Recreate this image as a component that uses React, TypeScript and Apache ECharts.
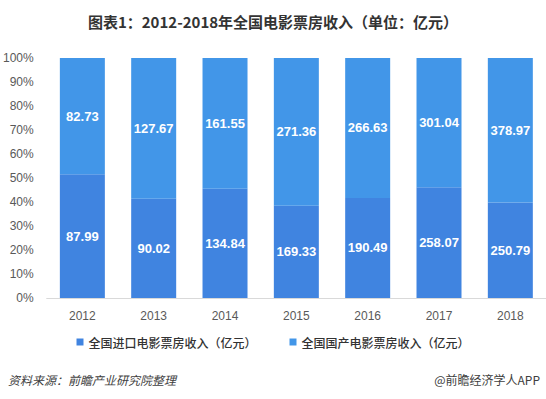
import React, { useEffect, useRef } from "react";
import * as echarts from "echarts";

const years = ["2012", "2013", "2014", "2015", "2016", "2017", "2018"];
const imported = [87.99, 90.02, 134.84, 169.33, 190.49, 258.07, 250.79];
const domestic = [82.73, 127.67, 161.55, 271.36, 266.63, 301.04, 378.97];
const seriesNames = ["全国进口电影票房收入（亿元）", "全国国产电影票房收入（亿元）"];
const title = "图表1：2012-2018年全国电影票房收入（单位：亿元）";
const sourceText = "资料来源：前瞻产业研究院整理";
const brandText = "@前瞻经济学人APP";

export default function App() {
  const ref = useRef<HTMLDivElement>(null);
  useEffect(() => {
    document.body.style.margin = "0";
    const chart = echarts.init(ref.current!, null, { renderer: "svg" });
    const totals = years.map((_, i) => imported[i] + domestic[i]);
    const pct = (arr: number[]) =>
      arr.map((v, i) => ({ value: (v / totals[i]) * 100, raw: v }));
    const labelCfg = {
      show: true,
      position: "inside",
      color: "#ffffff",
      fontSize: 13,
      fontWeight: "bold",
      fontFamily: "Arial, Liberation Sans, sans-serif",
      formatter: (p: any) => p.data.raw.toFixed(2),
    };
    chart.setOption({
      animation: false,
      title: {
        text: title,
        left: "center",
        top: 9,
        textStyle: {
          fontSize: 15,
          fontWeight: "bold",
          color: "#333333",
          fontFamily: "Noto Sans CJK SC, sans-serif",
        },
      },
      grid: { left: 44, right: -5, top: 58, bottom: 101 },
      legend: {
        bottom: 46,
        left: "center",
        itemWidth: 7,
        itemHeight: 7,
        itemGap: 33,
        icon: "rect",
        textStyle: {
          fontSize: 12,
          fontWeight: 500,
          color: "#333333",
          fontFamily: "Noto Sans CJK SC, sans-serif",
        },
        data: seriesNames,
      },
      xAxis: {
        type: "category",
        data: years,
        axisTick: { show: false },
        axisLine: { lineStyle: { color: "#d9d9d9" } },
        axisLabel: {
          color: "#595959",
          fontSize: 12,
          margin: 12,
          fontFamily: "Arial, Liberation Sans, sans-serif",
        },
      },
      yAxis: {
        type: "value",
        min: 0,
        max: 100,
        interval: 10,
        axisLine: { show: false },
        axisTick: { show: false },
        splitLine: { show: false },
        axisLabel: {
          formatter: "{value}%",
          color: "#595959",
          fontSize: 12,
          margin: 13,
          fontFamily: "Arial, Liberation Sans, sans-serif",
        },
      },
      series: [
        {
          name: seriesNames[0],
          type: "bar",
          stack: "total",
          barWidth: 45,
          data: pct(imported),
          itemStyle: { color: "#4084e0" },
          label: labelCfg,
        },
        {
          name: seriesNames[1],
          type: "bar",
          stack: "total",
          barWidth: 45,
          data: pct(domestic),
          itemStyle: { color: "#4296e8" },
          label: labelCfg,
        },
      ],
      graphic: [
        {
          type: "text",
          left: 8,
          top: 373,
          style: {
            text: sourceText,
            fontSize: 12,
            fontStyle: "italic",
            fill: "#404040",
            fontFamily: "Noto Sans CJK SC, sans-serif",
          },
        },
        {
          type: "text",
          right: 6,
          top: 373,
          style: {
            text: brandText,
            fontSize: 12,
            fill: "#404040",
            fontFamily: "Noto Sans CJK SC, sans-serif",
          },
        },
      ],
    });
    return () => chart.dispose();
  }, []);
  return <div ref={ref} style={{ width: 546, height: 399 }} />;
}
